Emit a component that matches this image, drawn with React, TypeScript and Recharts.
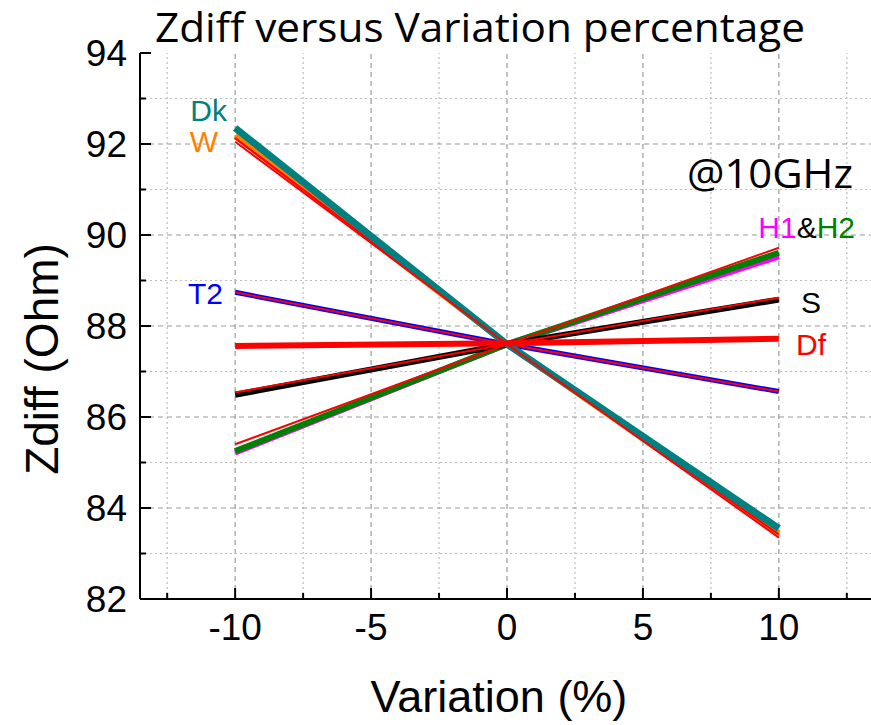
import React from "react";
import {
  LineChart,
  Line,
  XAxis,
  YAxis,
  ReferenceLine,
} from "recharts";

// x values (variation in %)
const variation = [-10, 0, 10];

// thick simulated curves
const dk = [92.35, 87.6, 83.55];
const w = [92.18, 87.6, 83.45];
const t2 = [88.74, 87.6, 86.56];
const s = [86.49, 87.6, 88.58];
const h1 = [85.22, 87.6, 89.53];
const h2 = [85.25, 87.6, 89.61];
const df = [87.56, 87.62, 87.72];

// thin red reference lines
const dkRef = [92.05, 87.6, 83.35];
const wRef = [92.13, 87.6, 83.42];
const t2Ref = [88.74, 87.6, 86.56];
const sRef = [86.54, 87.6, 88.62];
const hRef = [85.4, 87.6, 89.72];

const xTicks = [-12.5, -10, -7.5, -5, -2.5, 0, 2.5, 5, 7.5, 10, 12.5];
const yTicks = [82, 83, 84, 85, 86, 87, 88, 89, 90, 91, 92, 93, 94];

const rows = variation.map((v, i) => ({
  v,
  dk: dk[i],
  w: w[i],
  t2: t2[i],
  s: s[i],
  h1: h1[i],
  h2: h2[i],
  df: df[i],
  dkRef: dkRef[i],
  wRef: wRef[i],
  t2Ref: t2Ref[i],
  sRef: sRef[i],
  hRef: hRef[i],
}));

const FONT = "'Liberation Sans', Arial, sans-serif";
const isMajorX = (v: number) => v % 5 === 0;
const isMajorY = (v: number) => v % 2 === 0;

function BottomTick(props: any) {
  const { x, y, payload } = props;
  const major = isMajorX(payload.value);
  return (
    <g>
      <line x1={x} x2={x} y1={y} y2={y - (major ? 11 : 6)} stroke="#000" strokeWidth={2} />
      {major && (
        <text x={x} y={y + 41} textAnchor="middle" fontSize={37} fontFamily={FONT} fill="#000">
          {payload.value}
        </text>
      )}
    </g>
  );
}

function TopTick(props: any) {
  const { x, y, payload } = props;
  const major = isMajorX(payload.value);
  return <line x1={x} x2={x} y1={y} y2={y + (major ? 11 : 6)} stroke="#000" strokeWidth={2} />;
}

function LeftTick(props: any) {
  const { x, y, payload } = props;
  const major = isMajorY(payload.value);
  return (
    <g>
      <line x1={x} x2={x + (major ? 11 : 6)} y1={y} y2={y} stroke="#000" strokeWidth={2} />
      {major && (
        <text x={x - 13} y={y} dy="0.36em" textAnchor="end" fontSize={37} fontFamily={FONT} fill="#000">
          {payload.value}
        </text>
      )}
    </g>
  );
}

function RightTick(props: any) {
  const { x, y, payload } = props;
  const major = isMajorY(payload.value);
  return <line x1={x} x2={x - (major ? 11 : 6)} y1={y} y2={y} stroke="#000" strokeWidth={2} />;
}

const gridMajor = { stroke: "#9a9a9a", strokeWidth: 1.2, strokeDasharray: "5 4" };
const gridMinor = { stroke: "#bdbdbd", strokeWidth: 1.2, strokeDasharray: "2 3" };

export default function App() {
  return (
    <div
      style={{
        position: "absolute",
        left: 0,
        top: 0,
        width: 871,
        height: 725,
        overflow: "hidden",
        background: "#fff",
      }}
    >
      <LineChart
        width={880}
        height={725}
        data={rows}
        margin={{ top: 53, right: 6, left: 0, bottom: 0 }}
      >
        <XAxis
          dataKey="v"
          type="number"
          domain={[-13.5, 13.5]}
          ticks={xTicks}
          interval={0}
          height={126}
          tickSize={0}
          tickMargin={0}
          tickLine={false}
          axisLine={{ stroke: "#000", strokeWidth: 2 }}
          tick={<BottomTick />}
        />
        <XAxis
          xAxisId="top"
          orientation="top"
          dataKey="v"
          type="number"
          domain={[-13.5, 13.5]}
          ticks={xTicks}
          interval={0}
          height={0}
          tickSize={0}
          tickMargin={0}
          tickLine={false}
          axisLine={{ stroke: "#000", strokeWidth: 2 }}
          tick={<TopTick />}
        />
        <YAxis
          type="number"
          domain={[82, 94]}
          ticks={yTicks}
          interval={0}
          width={140}
          tickSize={0}
          tickMargin={0}
          tickLine={false}
          axisLine={{ stroke: "#000", strokeWidth: 2 }}
          tick={<LeftTick />}
        />
        <YAxis
          yAxisId="right"
          orientation="right"
          type="number"
          domain={[82, 94]}
          ticks={yTicks}
          interval={0}
          width={0}
          tickSize={0}
          tickMargin={0}
          tickLine={false}
          axisLine={{ stroke: "#000", strokeWidth: 2 }}
          tick={<RightTick />}
        />

        {xTicks.map((t) => (
          <ReferenceLine key={`gx${t}`} x={t} {...(isMajorX(t) ? gridMajor : gridMinor)} />
        ))}
        {yTicks
          .filter((t) => t > 82 && t < 94)
          .map((t) => (
            <ReferenceLine key={`gy${t}`} y={t} {...(isMajorY(t) ? gridMajor : gridMinor)} />
          ))}

        <Line dataKey="h1" stroke="#ff00ff" strokeWidth={6} dot={false} isAnimationActive={false} />
        <Line dataKey="h2" stroke="#008000" strokeWidth={6} dot={false} isAnimationActive={false} />
        <Line dataKey="s" stroke="#000000" strokeWidth={6} dot={false} isAnimationActive={false} />
        <Line dataKey="t2" stroke="#0000ff" strokeWidth={5} dot={false} isAnimationActive={false} />
        <Line dataKey="w" stroke="#ff8000" strokeWidth={6} dot={false} isAnimationActive={false} />
        <Line dataKey="hRef" stroke="#ff0000" strokeWidth={2} dot={false} isAnimationActive={false} />
        <Line dataKey="sRef" stroke="#ff0000" strokeWidth={2} dot={false} isAnimationActive={false} />
        <Line dataKey="t2Ref" stroke="#ff0000" strokeWidth={2} dot={false} isAnimationActive={false} />
        <Line dataKey="wRef" stroke="#ff0000" strokeWidth={2} dot={false} isAnimationActive={false} />
        <Line dataKey="dk" stroke="#008080" strokeWidth={7} dot={false} isAnimationActive={false} />
        <Line dataKey="dkRef" stroke="#ff0000" strokeWidth={2} dot={false} isAnimationActive={false} />
        <Line dataKey="df" stroke="#ff0000" strokeWidth={6} dot={false} isAnimationActive={false} />
      </LineChart>

      <svg
        width={871}
        height={725}
        style={{ position: "absolute", left: 0, top: 0, pointerEvents: "none" }}
      >
        <text
          x={480}
          y={42}
          textAnchor="middle"
          fontSize={40}
          fontFamily="'Open Sans', sans-serif"
          textLength={650}
          lengthAdjust="spacingAndGlyphs"
          fill="#000"
        >
          Zdiff  versus Variation percentage
        </text>
        <text
          x={42}
          y={359}
          transform="rotate(-90 42 359)"
          textAnchor="middle"
          dominantBaseline="central"
          fontSize={46}
          fontFamily={FONT}
          fill="#000"
        >
          Zdiff (Ohm)
        </text>
        <text x={499} y={712} textAnchor="middle" fontSize={45} fontFamily={FONT} fill="#000">
          Variation (%)
        </text>

        <text x={227} y={121} textAnchor="end" fontSize={30} fontFamily={FONT} fill="#008080">
          Dk
        </text>
        <text x={218} y={152} textAnchor="end" fontSize={30} fontFamily={FONT} fill="#ff8000">
          W
        </text>
        <text x={223} y={304} textAnchor="end" fontSize={30} fontFamily={FONT} fill="#0000ff">
          T2
        </text>
        <text
          x={853}
          y={188}
          textAnchor="end"
          fontSize={40}
          fontFamily="'Open Sans', sans-serif"
          textLength={166}
          lengthAdjust="spacingAndGlyphs"
          fill="#000"
        >
          @10GHz
        </text>
        <text x={855} y={238} textAnchor="end" fontSize={30} fontFamily={FONT}>
          <tspan fill="#ff00ff">H1</tspan>
          <tspan fill="#000">&amp;</tspan>
          <tspan fill="#008000">H2</tspan>
        </text>
        <text x={821} y={313} textAnchor="end" fontSize={30} fontFamily={FONT} fill="#000">
          S
        </text>
        <text x={826} y={355} textAnchor="end" fontSize={30} fontFamily={FONT} fill="#ff0000">
          Df
        </text>
      </svg>
    </div>
  );
}
